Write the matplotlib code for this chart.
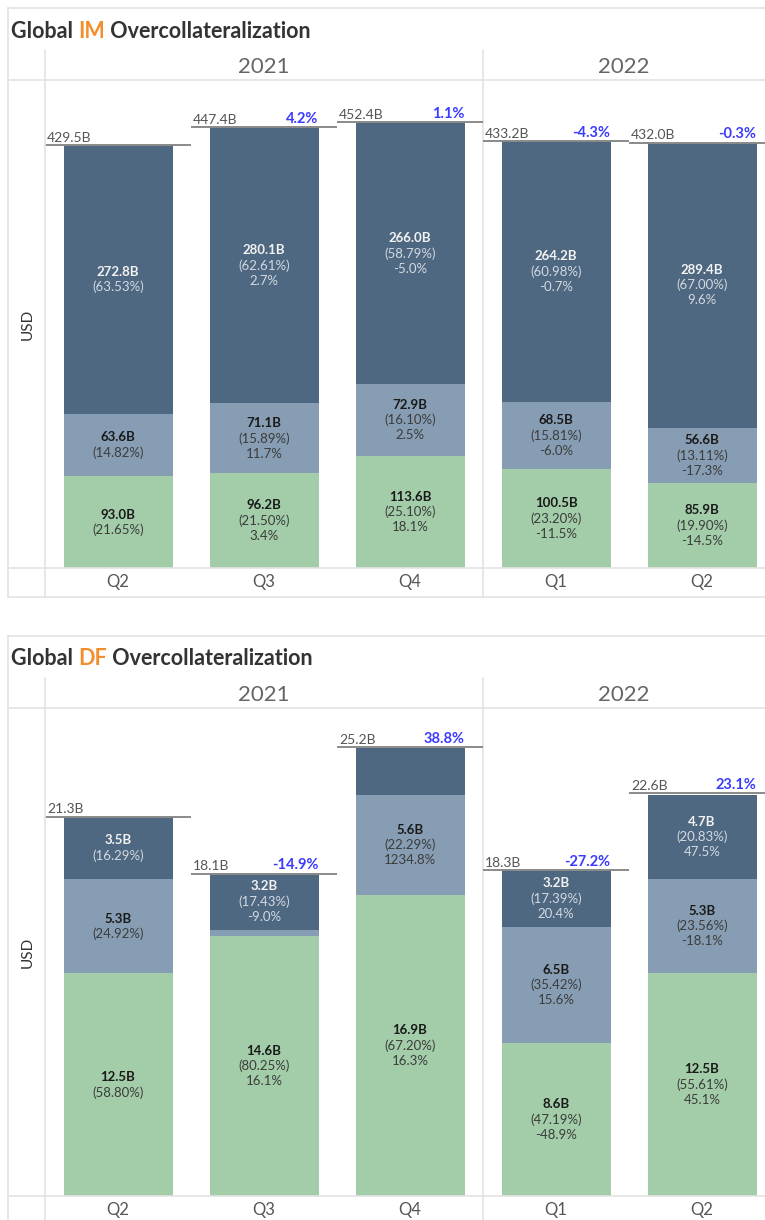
import matplotlib.pyplot as plt
from matplotlib.lines import Line2D
from matplotlib.transforms import blended_transform_factory

plt.rcParams['font.family'] = ['Lato', 'DejaVu Sans']

W, H = 765, 1220

quarters = ['Q2', 'Q3', 'Q4', 'Q1', 'Q2']
years = ['2021', '2022']
year_first = [0, 3]

# IM, billions USD
im_green = [93.0, 96.2, 113.6, 100.5, 85.9]
im_light = [63.6, 71.1, 72.9, 68.5, 56.6]
im_dark = [272.8, 280.1, 266.0, 264.2, 289.4]
im_green_share = [21.65, 21.50, 25.10, 23.20, 19.90]
im_light_share = [14.82, 15.89, 16.10, 15.81, 13.11]
im_dark_share = [63.53, 62.61, 58.79, 60.98, 67.00]
im_green_chg = [None, 3.4, 18.1, -11.5, -14.5]
im_light_chg = [None, 11.7, 2.5, -6.0, -17.3]
im_dark_chg = [None, 2.7, -5.0, -0.7, 9.6]
im_total = [429.5, 447.4, 452.4, 433.2, 432.0]
im_total_chg = [None, 4.2, 1.1, -4.3, -0.3]

# DF, billions USD (None share = no label shown)
df_green = [12.5, 14.6, 16.9, 8.6, 12.5]
df_light = [5.3, 0.35, 5.6, 6.5, 5.3]
df_dark = [3.5, 3.2, 2.65, 3.2, 4.7]
df_green_share = [58.80, 80.25, 67.20, 47.19, 55.61]
df_light_share = [24.92, None, 22.29, 35.42, 23.56]
df_dark_share = [16.29, 17.43, None, 17.39, 20.83]
df_green_chg = [None, 16.1, 16.3, -48.9, 45.1]
df_light_chg = [None, None, 1234.8, 15.6, -18.1]
df_dark_chg = [None, -9.0, None, 20.4, 47.5]
df_total = [21.3, 18.1, 25.2, 18.3, 22.6]
df_total_chg = [None, -14.9, 38.8, -27.2, 23.1]

C_DARK = '#4e6881'
C_LIGHT = '#869db3'
C_GREEN = '#a2cda8'
C_GRID = '#e3e3e3'
C_ORANGE = '#f28e2b'
C_BLUE = '#3b3bff'

fig = plt.figure(figsize=(W / 100, H / 100), dpi=100)
fig.patch.set_facecolor('white')


def fx(x):
    return x / W


def fy(y):
    return 1 - y / H


def hline(y, x0, x1, color=C_GRID, lw=1.2):
    fig.add_artist(Line2D([fx(x0), fx(x1)], [fy(y), fy(y)], color=color, lw=lw))


def vline(x, y0, y1, color=C_GRID, lw=1.2):
    fig.add_artist(Line2D([fx(x), fx(x)], [fy(y0), fy(y1)], color=color, lw=lw))


def panel(key, segs, total, total_chg, ymax, top, bottom_frame):
    title_y = top + 23
    head_top = top + 42
    head_line = top + 72
    base = top + 560
    cell = 146
    left = 45

    # frame and grid
    hline(top, 8, W)
    vline(8, top, bottom_frame)
    hline(bottom_frame, 8, W)
    vline(left, head_top, bottom_frame)
    hline(head_line, 8, W)
    hline(base, 8, W)

    ax = fig.add_axes([fx(left), fy(base), (W - left) / W, (base - head_line) / H])
    ax.set_xlim(-0.5, -0.5 + (W - left) / cell)
    ax.set_ylim(0, ymax)
    ax.axis('off')

    # title
    t1 = fig.text(fx(11), fy(title_y), 'Global ', fontsize=15.5, fontweight='bold',
                  color='#333333', va='center', ha='left')
    t2 = ax.annotate(key, xy=(1, 0), xycoords=t1, fontsize=15.5, fontweight='bold',
                     color=C_ORANGE, va='bottom', ha='left', annotation_clip=False)
    ax.annotate(' Overcollateralization', xy=(1, 0), xycoords=t2, fontsize=15.5,
                fontweight='bold', color='#333333', va='bottom', ha='left',
                annotation_clip=False)

    fig.text(fx(28), fy((head_line + base) / 2), 'USD', rotation=90, fontsize=11,
             color='#333333', ha='center', va='center')

    tr = blended_transform_factory(ax.transData, fig.transFigure)
    # year headers and divider
    for k, yr in enumerate(years):
        a = year_first[k] - 0.5
        b = (year_first[k + 1] - 0.5) if k + 1 < len(years) else ax.get_xlim()[1]
        ax.text((a + b) / 2, fy((head_top + head_line) / 2 + 2), yr, transform=tr,
                fontsize=16, color='#666666', ha='center', va='center')
        if k > 0:
            ax.add_line(Line2D([a, a], [fy(head_top), fy(bottom_frame)], transform=tr,
                               color=C_GRID, lw=1.2, clip_on=False))

    xs = list(range(len(quarters)))
    width = 109 / cell
    bottoms = [0] * len(xs)
    for vals, shares, chgs, color in segs:
        ax.bar(xs, vals, width=width, bottom=bottoms, color=color, linewidth=0)
        dark = color == C_DARK
        for i in xs:
            if shares[i] is None:
                continue
            yc = bottoms[i] + vals[i] / 2
            lines = [f'{vals[i]:.1f}B', f'({shares[i]:.2f}%)']
            if chgs[i] is not None:
                lines.append(f'{chgs[i]:.1f}%')
            n = len(lines)
            for j, s in enumerate(lines):
                off = ((n - 1) / 2 - j) * 11
                ax.annotate(s, (i, yc), xytext=(0, off), textcoords='offset points',
                            ha='center', va='center', fontsize=9.5,
                            fontweight='bold' if j == 0 else 'normal',
                            color=('#f2f2f2' if j == 0 else '#d3d9e0') if dark
                            else ('#1a1a1a' if j == 0 else '#3c3c3c'))
        bottoms = [b + v for b, v in zip(bottoms, vals)]

    for i in xs:
        ax.plot([i - 0.5, i + 0.5], [total[i], total[i]], color='#8a8a8a', lw=1.4,
                solid_capstyle='butt', clip_on=False)
        ax.annotate(f'{total[i]:.1f}B', (i - 0.5, total[i]), xytext=(1.5, 1),
                    textcoords='offset points', ha='left', va='bottom', fontsize=10,
                    color='#555555', annotation_clip=False)
        if total_chg[i] is not None:
            ax.annotate(f'{total_chg[i]:.1f}%', (i + width / 2, total[i]), xytext=(0, 1),
                        textcoords='offset points', ha='right', va='bottom', fontsize=10.5,
                        fontweight='bold', color=C_BLUE, annotation_clip=False)
        ax.text(i, -14 / (base - head_line), quarters[i], transform=ax.get_xaxis_transform(),
                ha='center', va='center', fontsize=12, color='#555555')


panel('IM',
      [(im_green, im_green_share, im_green_chg, C_GREEN),
       (im_light, im_light_share, im_light_chg, C_LIGHT),
       (im_dark, im_dark_share, im_dark_chg, C_DARK)],
      im_total, im_total_chg, 495.5, 8, 597)

panel('DF',
      [(df_green, df_green_share, df_green_chg, C_GREEN),
       (df_light, df_light_share, df_light_chg, C_LIGHT),
       (df_dark, df_dark_share, df_dark_chg, C_DARK)],
      df_total, df_total_chg, 27.4, 636, 1240)

fig.savefig('out.png', dpi=100, facecolor='white')
